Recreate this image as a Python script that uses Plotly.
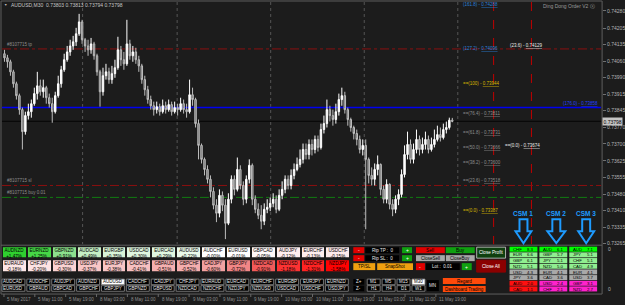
import plotly.graph_objects as go

W, H = 625, 305
def X(px): return px / W
def Y(py): return 1 - py / H

FONT = "Liberation Sans"

# ---------------- data ----------------
symbol = "AUDUSD,M30"
ohlc_now = ["0.73803", "0.73813", "0.73794", "0.73798"]
first_open = 0.74093
closes = [
    0.74075, 0.74058, 0.74014, 0.73962, 0.73910, 0.73849, 0.73753, 0.73823, 0.73840, 0.73875,
    0.73919, 0.73953, 0.73927, 0.73945, 0.73901, 0.73875, 0.73840, 0.73910, 0.73962, 0.74023,
    0.74067, 0.74101, 0.74127, 0.74145, 0.74180, 0.74232, 0.74154, 0.74127, 0.74110, 0.74136,
    0.74084, 0.74014, 0.73927, 0.73997, 0.74014, 0.73980, 0.74006, 0.74032, 0.74110, 0.74067,
    0.74049, 0.74136, 0.74084, 0.74101, 0.74067, 0.74040, 0.73980, 0.73936, 0.73893, 0.73866,
    0.73849, 0.73862, 0.73840, 0.73866, 0.73849, 0.73871, 0.73840, 0.73858, 0.73849, 0.73875,
    0.73849, 0.73840, 0.73914, 0.73893, 0.73788, 0.73693, 0.73632, 0.73588, 0.73545, 0.73492,
    0.73432, 0.73397, 0.73475, 0.73432, 0.73353, 0.73458, 0.73545, 0.73501, 0.73588, 0.73518,
    0.73458, 0.73545, 0.73606, 0.73458, 0.73414, 0.73388, 0.73362, 0.73414, 0.73423, 0.73440,
    0.73458, 0.73414, 0.73475, 0.73501, 0.73545, 0.73518, 0.73562, 0.73588, 0.73610, 0.73632,
    0.73675, 0.73653, 0.73697, 0.73675, 0.73719, 0.73684, 0.73762, 0.73788, 0.73849, 0.73823,
    0.73806, 0.73840, 0.73893, 0.73910, 0.73849, 0.73806, 0.73771, 0.73745, 0.73719, 0.73675,
    0.73693, 0.73632, 0.73562, 0.73545, 0.73588, 0.73610, 0.73501, 0.73458, 0.73523, 0.73436,
    0.73414, 0.73458, 0.73479, 0.73566, 0.73653, 0.73697, 0.73632, 0.73675, 0.73719, 0.73675,
    0.73697, 0.73719, 0.73675, 0.73697, 0.73719, 0.73740, 0.73727, 0.73762, 0.73771, 0.73803,
    0.73798]
highs = [
    0.74110, 0.74088, 0.74067, 0.74023, 0.73971, 0.73919, 0.73858, 0.73840, 0.73875, 0.73893,
    0.73945, 0.74014, 0.73980, 0.73980, 0.73953, 0.73919, 0.73901, 0.73927, 0.73997, 0.74040,
    0.74093, 0.74127, 0.74154, 0.74171, 0.74206, 0.74267, 0.74241, 0.74162, 0.74154, 0.74162,
    0.74145, 0.74093, 0.74023, 0.74032, 0.74049, 0.74032, 0.74040, 0.74067, 0.74167, 0.74127,
    0.74101, 0.74241, 0.74154, 0.74127, 0.74119, 0.74084, 0.74049, 0.73997, 0.73953, 0.73910,
    0.73884, 0.73884, 0.73875, 0.73893, 0.73884, 0.73893, 0.73884, 0.73884, 0.73875, 0.73901,
    0.73893, 0.73875, 0.73980, 0.73945, 0.73901, 0.73806, 0.73701, 0.73640, 0.73606, 0.73562,
    0.73510, 0.73458, 0.73501, 0.73492, 0.73458, 0.73484, 0.73562, 0.73562, 0.73640, 0.73606,
    0.73536, 0.73562, 0.73632, 0.73614, 0.73475, 0.73440, 0.73432, 0.73440, 0.73458, 0.73466,
    0.73484, 0.73475, 0.73501, 0.73536, 0.73562, 0.73562, 0.73588, 0.73614, 0.73640, 0.73675,
    0.73701, 0.73701, 0.73719, 0.73719, 0.73736, 0.73736, 0.73788, 0.73823, 0.73893, 0.73866,
    0.73849, 0.73875, 0.73919, 0.73945, 0.73927, 0.73858, 0.73814, 0.73779, 0.73762, 0.73736,
    0.73719, 0.73719, 0.73640, 0.73597, 0.73614, 0.73649, 0.73614, 0.73518, 0.73545, 0.73527,
    0.73458, 0.73475, 0.73501, 0.73588, 0.73693, 0.73753, 0.73719, 0.73701, 0.73762, 0.73736,
    0.73727, 0.73753, 0.73736, 0.73727, 0.73762, 0.73779, 0.73771, 0.73788, 0.73797, 0.73814,
    0.73813]
lows = [
    0.74058, 0.74032, 0.73997, 0.73945, 0.73893, 0.73827, 0.73675, 0.73740, 0.73806, 0.73814,
    0.73866, 0.73893, 0.73910, 0.73901, 0.73875, 0.73858, 0.73792, 0.73832, 0.73901, 0.73945,
    0.74014, 0.74058, 0.74084, 0.74110, 0.74127, 0.74171, 0.74136, 0.74101, 0.74084, 0.74093,
    0.74067, 0.73997, 0.73862, 0.73910, 0.73980, 0.73962, 0.73962, 0.73988, 0.74023, 0.74040,
    0.74023, 0.74040, 0.74067, 0.74058, 0.74049, 0.74014, 0.73962, 0.73910, 0.73875, 0.73849,
    0.73823, 0.73832, 0.73823, 0.73832, 0.73832, 0.73840, 0.73823, 0.73832, 0.73823, 0.73840,
    0.73832, 0.73814, 0.73832, 0.73866, 0.73771, 0.73632, 0.73614, 0.73562, 0.73527, 0.73466,
    0.73414, 0.73358, 0.73379, 0.73406, 0.73284, 0.73345, 0.73440, 0.73475, 0.73492, 0.73501,
    0.73432, 0.73440, 0.73527, 0.73432, 0.73397, 0.73371, 0.73327, 0.73345, 0.73397, 0.73406,
    0.73423, 0.73397, 0.73406, 0.73458, 0.73484, 0.73501, 0.73501, 0.73545, 0.73580, 0.73597,
    0.73614, 0.73632, 0.73632, 0.73649, 0.73658, 0.73666, 0.73675, 0.73745, 0.73771, 0.73797,
    0.73779, 0.73788, 0.73823, 0.73866, 0.73832, 0.73779, 0.73753, 0.73719, 0.73693, 0.73658,
    0.73649, 0.73327, 0.73527, 0.73518, 0.73518, 0.73562, 0.73475, 0.73440, 0.73440, 0.73414,
    0.73384, 0.73397, 0.73432, 0.73466, 0.73553, 0.73632, 0.73614, 0.73614, 0.73658, 0.73649,
    0.73658, 0.73675, 0.73658, 0.73666, 0.73684, 0.73710, 0.73710, 0.73719, 0.73745, 0.73762,
    0.73794]
opens = [first_open] + closes[:-1]
bars = list(range(len(closes)))

price_ticks = ["0.74280", "0.74205", "0.74135", "0.74060", "0.73990", "0.73915", "0.73845",
               "0.73770", "0.73700", "0.73625", "0.73555", "0.73480", "0.73410", "0.73335", "0.73265"]
time_labels = ["5 May 2017", "5 May 11:00", "5 May 19:00", "8 May 03:00", "8 May 11:00",
               "8 May 19:00", "9 May 03:00", "9 May 11:00", "9 May 19:00", "10 May 03:00",
               "10 May 11:00", "10 May 19:00", "11 May 03:00", "11 May 11:00", "11 May 19:00"]

order_id = "#8107715"
tp_price, sl_price, buy_price, buy_lot = 0.74114, 0.73518, 0.73466, "0.01"
blue_level, blue_label = 0.73858, "(176.0)"
fib_levels = ["0.0", "23.6", "38.2", "50.0", "61.8", "76.4", "100", "127.2", "161.8"]
fib_prices = [0.73387, 0.73518, 0.73600, 0.73666, 0.73731, 0.73811, 0.73944, 0.74096, 0.74288]
fib2_levels = ["0.0", "23.6"]
fib2_prices = [0.73674, 0.74129]

row1_pairs = ["AUDNZD", "EURNZD", "GBPNZD", "AUDCAD", "EURGBP", "USDCAD", "EURCAD", "AUDUSD",
              "AUDCHF", "EURUSD", "GBPCAD", "AUDJPY", "EURCHF", "USDCHF"]
row1_pct = [1.47, 1.25, 0.91, 0.49, 0.35, 0.30, 0.29, 0.22, -0.00, -0.01, -0.05, -0.12, -0.13, -0.15]
row2_pairs = ["EURAUD", "CHFJPY", "GBPUSD", "USDJPY", "EURJPY", "CADCHF", "GBPAUD", "GBPCHF",
              "CADJPY", "GBPJPY", "NZDCAD", "NZDUSD", "NZDCHF", "NZDJPY"]
row2_pct = [-0.18, -0.20, -0.30, -0.37, -0.38, -0.41, -0.51, -0.52, -0.60, -0.72, -0.91, -1.18, -1.31, -1.58]

sym_row1 = ["AUDCAD", "AUDCHF", "AUDJPY", "AUDNZD", "AUDUSD", "CADCHF", "CADJPY", "CHFJPY",
            "EURAUD", "EURCAD", "EURCHF", "EURGBP", "EURJPY", "EURNZD"]
sym_row2 = ["EURUSD", "GBPAUD", "GBPCAD", "GBPCHF", "GBPJPY", "GBPNZD", "GBPUSD", "NZDCAD",
            "NZDCHF", "NZDJPY", "NZDUSD", "USDCAD", "USDCHF", "USDJPY"]
active_symbol = "AUDUSD"
tf_row1 = ["M1", "M5", "M15", "M30"]
tf_row2 = ["H1", "H4", "D1", "W1"]
active_tf = "M30"

csm_names = ["CSM 1", "CSM 2", "CSM 3"]
csm_ccy = [["CHF", "EUR", "GBP", "NZD", "USD", "JPY", "AUD", "CAD"],
           ["AUD", "GBP", "JPY", "NZD", "EUR", "CAD", "USD", "CHF"],
           ["AUD", "JPY", "CHF", "CAD", "EUR", "USD", "GBP", "NZD"]]
csm_val = [[8.3, 6.6, 6.1, 5.1, 4.3, 3.6, 2.0, 1.1],
           [6.1, 5.7, 5.1, 5.0, 4.1, 3.6, 2.4, 2.1],
           [7.1, 5.1, 5.1, 4.9, 4.1, 3.7, 3.1, 2.7]]

# ---------------- styles / layout constants ----------------
BG = "#1c1c1c"
BLUE = "#1e9bff"
shapes, annots = [], []

def T(x, y, s, size=5, color="#c0c0c0", xa="left", ya="middle", yref="paper", bg=None, bold=False):
    yy = y if yref == "y" else Y(y)
    if bold:
        s = "<b>" + s + "</b>"
    d = dict(x=X(x), y=yy, xref="paper", yref=yref, text=s, showarrow=False,
             xanchor=xa, yanchor=ya, font=dict(size=size, color=color, family=FONT))
    if bg:
        d["bgcolor"] = bg
    annots.append(d)

def R(x0, y0, x1, y1, fill, line=None, lw=1):
    shapes.append(dict(type="rect", xref="paper", yref="paper", x0=X(x0), x1=X(x1), y0=Y(y1), y1=Y(y0),
                       fillcolor=fill, line=dict(color=line or fill, width=lw if line else 0), layer="above"))

def L(x0, y0, x1, y1, color, width=1, dash="solid", yref="paper"):
    if yref == "y":
        shapes.append(dict(type="line", xref="paper", yref="y", x0=X(x0), x1=X(x1), y0=y0, y1=y1,
                           line=dict(color=color, width=width, dash=dash), layer="below"))
    else:
        shapes.append(dict(type="line", xref="paper", yref="paper", x0=X(x0), x1=X(x1), y0=Y(y0), y1=Y(y1),
                           line=dict(color=color, width=width, dash=dash), layer="below"))

# frame
for a in [(1, 1, 605, 1), (1, 1, 1, 295), (605, 1, 605, 295), (1, 246, 605, 246), (1, 295, 605, 295)]:
    L(*a, color="#5f5f5f")
# daily grid (dotted)
for gx in [83, 178, 272, 366, 460]:
    L(gx, 2, gx, 245, "#555555", 1, "dot")
# red vertical markers
for vx in [496, 534]:
    L(vx, 2, vx, 245, "#c00000", 1, "dash")

# horizontal price lines
L(2, tp_price, 604, tp_price, "#8a1010", 1, "dashdot", "y")
L(2, sl_price, 604, sl_price, "#8a1010", 1, "dashdot", "y")
L(2, buy_price, 604, buy_price, "#107a10", 1, "dashdot", "y")
L(2, blue_level, 604, blue_level, "#0000f0", 1.5, "solid", "y")
L(2, float(ohlc_now[3]), 604, float(ohlc_now[3]), "#050505", 1, "solid", "y")

# order labels
T(5, tp_price, order_id + " tp", 4.5, "#8c8c8c", ya="bottom", yref="y")
T(5, sl_price, order_id + " sl", 4.5, "#8c8c8c", ya="bottom", yref="y")
T(5, buy_price, order_id + " buy " + buy_lot, 4.5, "#8c8c8c", ya="bottom", yref="y")

# fib labels
fib_col = {"0.0": "#d8b800", "100": "#d8b800", "127.2": "#2a80d8", "161.8": "#2a80d8"}
for lv, pr in zip(fib_levels, fib_prices):
    col = fib_col.get(lv, "#8c8c8c")
    pre = "" if lv in ("127.2", "161.8") else "=="
    T(463, pr, f"{pre}({lv}) - <u>{pr:.5f}</u>", 4.5, col, ya="bottom", yref="y")
T(510, fib2_prices[1], f"({fib2_levels[1]}) - <u>{fib2_prices[1]:.5f}</u>", 4.5, "#e8e8e8", ya="middle", yref="y")
T(505, fib2_prices[0], f"==({fib2_levels[0]}) - <u>{fib2_prices[0]:.5f}</u>", 4.5, "#e8e8e8", ya="bottom", yref="y")
T(603, blue_level, f"{blue_label} - <u>{blue_level:.5f}</u>", 4.5, "#2040ff", xa="right", ya="bottom", yref="y")

# title + EA name
T(2, 5, "▼", 3.5, "#bdbdbd")
T(9, 5, f"{symbol}  {' '.join(ohlc_now)}", 5, "#c8c8c8")
T(600, 6, "Ding Dong Order V2 ⓧ", 5, "#9a9a9a", xa="right")

# current price box
annots.append(dict(x=X(604.5), y=float(ohlc_now[3]), xref="paper", yref="y", text=ohlc_now[3], showarrow=False,
                   xanchor="left", yanchor="middle", bgcolor="#c4c4c4", borderpad=0.5,
                   font=dict(size=5, color="#000000", family=FONT)))
# sub-window zero labels
T(609, 250, "0", 5, "#b4b4b4")
T(609, 290, "0", 5, "#b4b4b4")

# time axis labels
for i, lab in enumerate(time_labels):
    tx = 4 + 31 * i
    L(tx, 295, tx, 298, "#6a6a6a")
    T(tx + 1.5, 300, lab, 4.5, "#8e8e8e")

# CSM labels and arrows
csm_x = [512, 542, 572]
arrow_cx = [526, 559, 589]
for k in range(3):
    T(arrow_cx[k], 214, csm_names[k], 6.5, BLUE, xa="center", bold=True)
    cx = arrow_cx[k]
    hw = 9 if k == 1 else 8
    sw = 4
    pts = [(cx - sw, 220), (cx + sw, 220), (cx + sw, 232), (cx + hw, 232), (cx, 244),
           (cx - hw, 232), (cx - sw, 232)]
    path = "M " + " L ".join(f"{X(a)},{Y(b)}" for a, b in pts) + " Z"
    shapes.append(dict(type="path", xref="paper", yref="paper", path=path,
                       line=dict(color=BLUE, width=2), fillcolor="rgba(0,0,0,0)", layer="above"))
    bottom = "#ff1010" if k == 0 else "#ff22cc"
    rank_col = ["#00ff00", "#90ee90", "#90ee90", "#90ee90", "#a8a8a8", "#a8a8a8", bottom, bottom]
    for r in range(8):
        y0 = 247.5 + r * 5.7
        R(csm_x[k], y0, csm_x[k] + 28, y0 + 5, rank_col[r])
        T(csm_x[k] + 1.5, y0 + 2.6, csm_ccy[k][r], 4.3, "#000000")
        T(csm_x[k] + 26.5, y0 + 2.6, f"{csm_val[k][r]:.1f}", 4.3, "#000000", xa="right")

# symbol buttons
for row, syms in enumerate([sym_row1, sym_row2]):
    y0 = 280 + row * 6.6
    for i, s in enumerate(syms):
        x0 = 2 + 25 * i
        act = s == active_symbol
        R(x0, y0, x0 + 23, y0 + 5.6, "#ffffff" if act else "#000000", "#8a8a8a", 0.8)
        T(x0 + 11.5, y0 + 2.9, s, 4.5, "#000000" if act else "#e8e8e8", xa="center")
# timeframe buttons
for row, tfs in enumerate([tf_row1, tf_row2]):
    y0 = 280 + row * 6.6
    R(355, y0, 366, y0 + 5.6, "#000000")
    T(360.5, y0 + 2.9, "Z+" if row == 0 else "Z-", 4.5, "#e8e8e8", xa="center")
    for i, s in enumerate(tfs):
        x0 = 369 + 15 * i
        act = s == active_tf
        R(x0, y0, x0 + 13, y0 + 5.6, "#ffffff" if act else "#000000", "#8a8a8a", 0.8)
        T(x0 + 6.5, y0 + 2.9, s, 4.5, "#000000" if act else "#e8e8e8", xa="center")
R(429, 281, 441, 292, "#000000")
T(435, 286.5, "MN", 4.5, "#e8e8e8", xa="center")

# trade control panel
RED, GRN, ORG = "#e00000", "#10a010", "#f0a010"
for j, lab in enumerate(["Rip TP :  0", "Rip SL :  0"]):
    y0 = 248 + 8 * j
    R(355, y0, 366, y0 + 6, RED)
    T(360.5, y0 + 3, "-", 5, "#ffffff", xa="center")
    R(367, y0, 401, y0 + 6, "#000000")
    T(372, y0 + 3, lab, 4.5, "#e8e8e8")
    R(404, y0, 414, y0 + 6, GRN)
    T(409, y0 + 3, "+", 5, "#ffffff", xa="center")
R(355, 264, 377, 271, ORG); T(366, 267.5, "TP/SL", 4.5, "#000000", xa="center")
R(379, 264, 415, 271, ORG); T(397, 267.5, "SnapShot", 4.5, "#000000", xa="center")
R(418, 248, 447, 254, RED); T(432.5, 251, "Sell", 4.8, "#000000", xa="center")
R(448, 248, 477, 254, GRN); T(462.5, 251, "Buy", 4.8, "#000000", xa="center")
R(418, 256, 447, 262, "#a8a8a8"); T(432.5, 259, "CloseSell", 4.5, "#000000", xa="center")
R(448, 256, 477, 262, "#a8a8a8"); T(462.5, 259, "CloseBuy", 4.5, "#000000", xa="center")
R(418, 264, 427, 271, RED); T(422.5, 267.5, "-", 5, "#ffffff", xa="center")
R(428, 264, 462, 271, "#000000"); T(432, 267.5, "Lot :  0.01", 4.5, "#e8e8e8")
R(464, 264, 474, 271, GRN); T(469, 267.5, "+", 5, "#ffffff", xa="center")
R(479, 248, 508, 259, "#0f3f0f", "#d0d0d0", 0.8); T(493.5, 253.5, "Close Profit", 4.6, "#ffffff", xa="center")
R(479, 261, 508, 273, "#8b0000", "#8b0000"); T(493.5, 267, "Close All", 4.6, "#ffffff", xa="center")
R(445, 279, 488, 285, "#ff4a0a"); T(466.5, 282, "Regard", 4.5, "#000000", xa="center")
R(445, 287, 488, 293, "#ff4a0a"); T(466.5, 290, "Dashboard Trading", 4.5, "#000000", xa="center")

# ---------------- traces ----------------
fig = go.Figure()
fig.add_trace(go.Candlestick(
    x=bars, open=opens, high=highs, low=lows, close=closes,
    increasing=dict(line=dict(color="#ffffff", width=1), fillcolor="#ffffff"),
    decreasing=dict(line=dict(color="#bdbdbd", width=1), fillcolor="#6a6a6a"),
    whiskerwidth=0, hoverinfo="skip", showlegend=False, xaxis="x", yaxis="y"))

tile_z = [row1_pct, row2_pct]
tile_text = [[f"{p}<br>{v:+.2f}%" for p, v in zip(row1_pairs, row1_pct)],
             [f"{p}<br>{v:+.2f}%" for p, v in zip(row2_pairs, row2_pct)]]
tile_scale = [[0.0, "#ff0000"], [0.12, "#ff2e2e"], [0.22, "#f05c5c"], [0.31, "#f3a0a0"],
              [0.38, "#f8c4c4"], [0.44, "#fde4e4"], [0.5, "#ffffff"], [0.56, "#eefaee"],
              [0.63, "#cff2cf"], [0.78, "#8fe08f"], [0.89, "#46d846"], [1.0, "#22cc22"]]
fig.add_trace(go.Heatmap(
    z=tile_z, text=tile_text, texttemplate="%{text}",
    textfont=dict(size=4.6, color="#000000", family=FONT),
    colorscale=tile_scale, zmin=-1.6, zmax=1.6, showscale=False,
    xgap=2, ygap=3, hoverinfo="skip", xaxis="x3", yaxis="y3"))

fig.update_layout(
    width=W, height=H, margin=dict(l=0, r=0, t=0, b=0),
    paper_bgcolor=BG, plot_bgcolor=BG, showlegend=False,
    xaxis=dict(domain=[X(2), X(605)], anchor="y", range=[-0.83, 200.17], visible=False,
               rangeslider=dict(visible=False), fixedrange=True),
    yaxis=dict(domain=[Y(246), Y(2)], anchor="x", side="right", range=[0.732574, 0.743188],
               tickvals=[float(t) for t in price_ticks], ticktext=price_ticks,
               ticks="outside", ticklen=3, tickcolor="#707070", showgrid=False, zeroline=False,
               showline=False, tickfont=dict(size=5, color="#b4b4b4", family=FONT)),
    xaxis3=dict(domain=[X(2), X(352)], anchor="y3", range=[-0.5, 13.5], visible=False),
    yaxis3=dict(domain=[Y(274), Y(247)], anchor="x3", range=[1.5, -0.5], visible=False),
    shapes=shapes, annotations=annots,
)
fig.write_html("out.html")
